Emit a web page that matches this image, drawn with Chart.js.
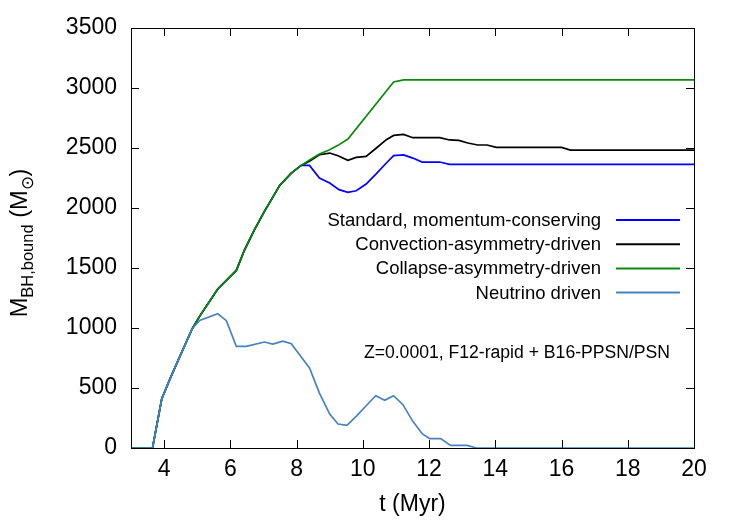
<!DOCTYPE html>
<html>
<head>
<meta charset="utf-8">
<script src="https://cdn.jsdelivr.net/npm/chart.js@4/dist/chart.umd.min.js"></script>
<style>
  html, body { margin: 0; padding: 0; background: #fff; }
  #wrap { width: 750px; height: 525px; position: relative; }
</style>
</head>
<body>
<div id="wrap"><canvas id="bh-chart"></canvas></div>
<script>
// t in Myr, M_BH,bound in Msun
const stdT = [3.0, 3.65, 3.93, 4.21, 4.52, 4.85, 5.07, 5.62, 6.18, 6.43, 6.73, 7.03, 7.49, 7.84, 8.14,
    8.39, 8.69, 9.0, 9.28, 9.55, 9.8, 10.1, 10.41, 10.71, 10.93, 11.23, 11.51, 11.79, 12.32, 12.62, 20];
const stdM = [0, 0, 411, 597, 791, 994, 1097, 1325, 1480, 1652, 1819, 1972, 2188, 2291, 2355,
    2355, 2250, 2208, 2153, 2130, 2144, 2200, 2286, 2375, 2436, 2442, 2416, 2383, 2383, 2363, 2363];

const convT = [3.0, 3.65, 3.93, 4.21, 4.52, 4.85, 5.07, 5.62, 6.18, 6.43, 6.73, 7.03, 7.49, 7.84, 8.14,
    8.39, 8.69, 9.0, 9.25, 9.55, 9.8, 10.1, 10.41, 10.71, 10.93, 11.23, 11.51, 12.32, 12.62, 12.9,
    13.17, 13.47, 13.75, 14.03, 16.0, 16.27, 20];
const convM = [0, 0, 411, 597, 791, 994, 1097, 1325, 1480, 1652, 1819, 1972, 2188, 2291, 2355,
    2389, 2444, 2458, 2436, 2397, 2422, 2430, 2500, 2569, 2605, 2613, 2586, 2586, 2567, 2563,
    2542, 2525, 2525, 2505, 2505, 2483, 2483];

const collT = [3.0, 3.65, 3.93, 4.21, 4.52, 4.85, 5.07, 5.62, 6.18, 6.43, 6.73, 7.03, 7.49, 7.84, 8.14,
    8.39, 8.69, 9.0, 9.25, 9.55, 10.93, 11.23, 20];
const collM = [0, 0, 411, 597, 791, 994, 1097, 1325, 1480, 1652, 1819, 1972, 2188, 2291, 2355,
    2400, 2450, 2486, 2522, 2575, 3050, 3067, 3067];

const nuT = [3.0, 3.65, 3.93, 4.21, 4.52, 4.85, 5.07, 5.62, 5.88, 6.18, 6.48, 7.03, 7.28, 7.59, 7.84,
    8.09, 8.39, 8.69, 9.0, 9.25, 9.52, 9.8, 10.1, 10.39, 10.66, 10.93, 11.21, 11.51, 11.8, 12.02,
    12.35, 12.65, 13.15, 13.43, 20];
const nuM = [0, 0, 411, 597, 791, 994, 1063, 1119, 1061, 847, 847, 883, 866, 891, 869,
    777, 667, 458, 283, 200, 188, 263, 352, 436, 397, 436, 361, 222, 117, 78,
    78, 22, 22, 0, 0];

const seriesLabels = [
    "Standard, momentum-conserving",
    "Convection-asymmetry-driven",
    "Collapse-asymmetry-driven",
    "Neutrino driven"
];
const xTicks = [4, 6, 8, 10, 12, 14, 16, 18, 20];
const yTicks = [0, 500, 1000, 1500, 2000, 2500, 3000, 3500];
const noteText = "Z=0.0001, F12-rapid + B16-PPSN/PSN";

const FONT = "'Liberation Sans', Arial, Helvetica, sans-serif";

function pairs(ts, ms) {
    return ts.map((t, i) => ({ x: t, y: ms[i] }));
}

// frame, inward ticks, legend, note and y-axis title (gnuplot look)
const gnuplotDecor = {
    id: "gnuplotDecor",
    afterDatasetsDraw(chart) {
        const ctx = chart.ctx;
        const a = chart.chartArea;
        const xs = chart.scales.x;
        const ys = chart.scales.y;
        const tl = 8;

        ctx.save();
        ctx.strokeStyle = "#000";
        ctx.lineWidth = 1;
        ctx.strokeRect(Math.round(a.left) + 0.5, Math.round(a.top) + 0.5,
            Math.round(a.right - a.left), Math.round(a.bottom - a.top));

        ctx.beginPath();
        xTicks.forEach(v => {
            const px = Math.round(xs.getPixelForValue(v)) + 0.5;
            ctx.moveTo(px, a.bottom); ctx.lineTo(px, a.bottom - tl);
            ctx.moveTo(px, a.top); ctx.lineTo(px, a.top + tl);
        });
        yTicks.forEach(v => {
            const py = Math.round(ys.getPixelForValue(v)) + 0.5;
            ctx.moveTo(a.left, py); ctx.lineTo(a.left + tl, py);
            ctx.moveTo(a.right, py); ctx.lineTo(a.right - tl, py);
        });
        ctx.stroke();

        // legend
        ctx.font = "18.5px " + FONT;
        ctx.textAlign = "right";
        ctx.textBaseline = "middle";
        chart.data.datasets.forEach((ds, i) => {
            const y = 220 + i * 24.2;
            ctx.fillStyle = "#000";
            ctx.fillText(ds.label, 601, y + 1);
            ctx.strokeStyle = ds.borderColor;
            ctx.lineWidth = 2;
            ctx.beginPath();
            ctx.moveTo(616, y); ctx.lineTo(680, y);
            ctx.stroke();
        });

        ctx.fillStyle = "#000";
        ctx.font = "17.6px " + FONT;
        ctx.fillText(noteText, 670, 353);

        // y title: M_{BH,bound} (M_sun)
        ctx.translate(19, 243);
        ctx.rotate(-Math.PI / 2);
        const big = "23.5px " + FONT, small = "16.5px " + FONT;
        const parts = [
            ["M", big, 0], ["BH,bound", small, 6], [" (M", big, 0], ["\u2299", small, 6], [")", big, 0]
        ];
        let w = 0;
        parts.forEach(p => { ctx.font = p[1]; w += ctx.measureText(p[0]).width; });
        let x = -w / 2;
        ctx.textAlign = "left";
        ctx.textBaseline = "alphabetic";
        parts.forEach(p => {
            ctx.font = p[1];
            ctx.fillText(p[0], x, 8 + p[2]);
            x += ctx.measureText(p[0]).width;
        });
        ctx.restore();
    }
};

const ctx = document.getElementById("bh-chart").getContext("2d");

new Chart(ctx, {
    type: "scatter",
    data: {
        datasets: [
            { label: seriesLabels[0], data: pairs(stdT, stdM), borderColor: "#0000ff", order: 4 },
            { label: seriesLabels[1], data: pairs(convT, convM), borderColor: "#000000", order: 3 },
            { label: seriesLabels[2], data: pairs(collT, collM), borderColor: "#0a8a0a", order: 2 },
            { label: seriesLabels[3], data: pairs(nuT, nuM), borderColor: "#4682c0", order: 1 }
        ].map(d => Object.assign(d, {
            showLine: true,
            pointRadius: 0,
            borderWidth: 1.7,
            fill: false,
            tension: 0
        }))
    },
    options: {
        responsive: true,
        maintainAspectRatio: false,
        animation: false,
        layout: { padding: { left: 0, right: 56, top: 28, bottom: 0 } },
        plugins: {
            legend: { display: false },
            tooltip: { enabled: false }
        },
        scales: {
            x: {
                type: "linear",
                min: 3,
                max: 20,
                grid: { display: false, drawTicks: false },
                border: { display: false },
                afterBuildTicks: s => { s.ticks = xTicks.map(v => ({ value: v })); },
                afterFit: s => { s.height = 77; },
                ticks: {
                    color: "#000",
                    padding: 8,
                    maxRotation: 0,
                    callback: v => String(v),
                    font: { family: FONT, size: 23 }
                },
                title: {
                    display: true,
                    text: "t (Myr)",
                    color: "#000",
                    padding: { top: 0, bottom: 7 },
                    font: { family: FONT, size: 23 }
                }
            },
            y: {
                min: 0,
                max: 3500,
                grid: { display: false, drawTicks: false },
                border: { display: false },
                afterBuildTicks: s => { s.ticks = yTicks.map(v => ({ value: v })); },
                afterFit: s => { s.width = 131; },
                ticks: {
                    color: "#000",
                    padding: 14,
                    callback: v => String(v),
                    font: { family: FONT, size: 23 }
                }
            }
        }
    },
    plugins: [gnuplotDecor]
});
</script>
</body>
</html>
